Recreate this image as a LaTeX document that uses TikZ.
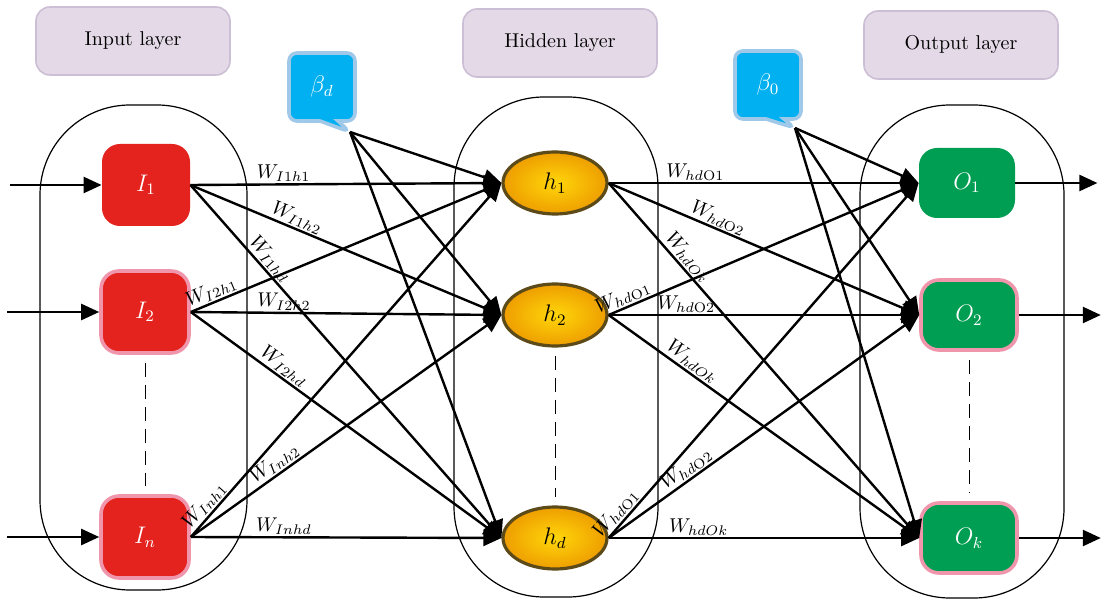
\documentclass[tikz,border=0pt]{standalone}
\usetikzlibrary{arrows.meta,shapes.geometric,shapes.callouts}

\definecolor{inred}{RGB}{228,34,30}
\definecolor{outgreen}{RGB}{0,158,82}
\definecolor{glow}{RGB}{240,150,172}
\definecolor{hidyel}{RGB}{255,214,10}
\definecolor{hidorg}{RGB}{238,158,0}
\definecolor{hidrim}{RGB}{92,74,24}
\definecolor{betablue}{RGB}{0,176,240}
\definecolor{betarim}{RGB}{160,200,232}
\definecolor{tagfill}{RGB}{227,217,231}
\definecolor{tagrim}{RGB}{204,190,212}

\tikzset{
  tag/.style={draw=tagrim,fill=tagfill,rounded corners=7pt,line width=0.8pt,
              minimum width=97pt,minimum height=34pt},
  group/.style={black,line width=0.6pt,rounded corners=45pt},
  innode/.style={fill=inred,text=white,rounded corners=9pt,inner sep=0pt,
                 minimum width=44pt,minimum height=41pt,font=\large},
  hidnode/.style={ellipse,draw=hidrim,line width=1.6pt,inner sep=0pt,
                  inner color=hidyel,outer color=hidorg,
                  minimum width=52pt,minimum height=31pt,font=\large},
  outnode/.style={fill=outgreen,text=white,rounded corners=9pt,inner sep=0pt,
                  minimum width=48pt,minimum height=35pt,font=\large},
  halo/.style={draw=glow,line width=1.8pt},
  beta/.style={rectangle callout,fill=betablue,draw=betarim,line width=1.8pt,
               text=white,rounded corners=4pt,callout pointer width=9pt,
               minimum width=33pt,minimum height=34pt,font=\large},
  conn/.style={line width=1.2pt,-{Triangle[length=9pt,width=8pt]}},
  wlab/.style={sloped,above,inner sep=0.8pt},
  gap/.style={dashed,dash pattern=on 7pt off 4pt,line width=0.5pt,
              shorten <=4pt,shorten >=4pt}
}

\begin{document}
\begin{tikzpicture}[x=0.5pt,y=-0.5pt]
  \useasboundingbox (0,0) rectangle (1101,614);

% LAYER TAGS
  \node[tag] (tin)  at (133,41) {Input layer};
  \node[tag] (thid) at (560,43) {Hidden layer};
  \node[tag] (tout) at (961,45) {Output layer};

% GROUPS
  \draw[group] ( 40,105) rectangle ( 247,590);
  \draw[group] (454, 97) rectangle ( 658,597);
  \draw[group] (860,105) rectangle (1064,598);

% INPUT NODES
  \node[innode]      (I1) at (146,185) {$I_1$};
  \node[innode,halo] (I2) at (145,312) {$I_2$};
  \node[innode,halo] (In) at (145,537) {$I_n$};

% HIDDEN NODES
  \node[hidnode] (H1) at (555,183) {$h_1$};
  \node[hidnode] (H2) at (555,315) {$h_2$};
  \node[hidnode] (Hd) at (555,538) {$h_d$};

% OUTPUT NODES
  \node[outnode]      (O1) at (967,183) {$O_1$};
  \node[outnode,halo] (O2) at (969,315) {$O_2$};
  \node[outnode,halo] (Ok) at (969,538) {$O_k$};

% BIAS
  \coordinate (bdtip) at (350,132);
  \coordinate (botip) at (795,128);
  \node[beta,callout absolute pointer=(bdtip)] (Bd) at (322,87) {$\beta_d$};
  \node[beta,callout absolute pointer=(botip)] (Bo) at (768,85) {$\beta_0$};

% GAPS
  \draw[gap] (I2.south) -- (In.north);
  \draw[gap] (H2.south) -- (Hd.north);
  \draw[gap] (O2.south) -- (Ok.north);

% IN AND OUT
  \foreach \n in {I1,I2,In}
      \draw[conn] (\n.west) ++(-92,0) coordinate (\n src) -- (\n.west);
  \foreach \n in {O1,O2,Ok}
      \draw[conn] (\n.east) -- ++(82,0) coordinate (\n dst);

% WEIGHTS INPUT -> HIDDEN
  \foreach \s/\t/\p/\lab in {I1/H1/0.3/W_{I1h1}, I1/H2/0.33/W_{I1h2}, I1/Hd/0.23/W_{I1hd},
                             I2/H1/0.08/W_{I2h1}, I2/H2/0.3/W_{I2h2}, I2/Hd/0.28/W_{I2hd},
                             In/H1/0.07/W_{Inh1}, In/H2/0.29/W_{Inh2}, In/Hd/0.3/W_{Inhd}}
      \draw[conn] (\s.east) -- node[wlab,pos=\p] {$\lab$} (\t.west);

% WEIGHTS HIDDEN -> OUTPUT
  \foreach \s/\t/\p/\lab in {H1/O1/0.28/W_{hd\mathrm{O}1}, H1/O2/0.34/W_{hd\mathrm{O}2}, H1/Ok/0.23/W_{hdOk},
                             H2/O1/0.06/W_{hd\mathrm{O}1}, H2/O2/0.25/W_{hd\mathrm{O}2}, H2/Ok/0.25/W_{hdOk},
                             Hd/O1/0.05/W_{hd\mathrm{O}1}, Hd/O2/0.27/W_{hd\mathrm{O}2}, Hd/Ok/0.29/W_{hdOk}}
      \draw[conn] (\s.east) -- node[wlab,pos=\p] {$\lab$} (\t.west);

% BIAS LINKS
  \foreach \t in {H1,H2,Hd}
      \draw[conn] (bdtip) -- (\t.west);
  \foreach \t in {O1,O2,Ok}
      \draw[conn] (botip) -- (\t.west);
\end{tikzpicture}
\end{document}
